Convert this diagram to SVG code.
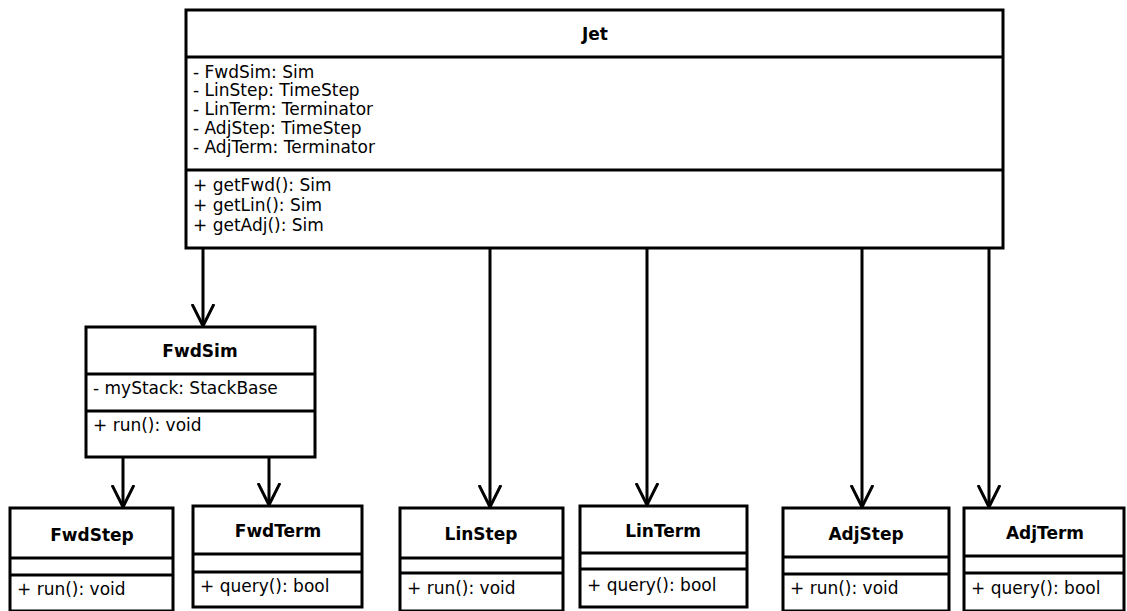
<svg xmlns="http://www.w3.org/2000/svg" width="1127" height="611" viewBox="0 0 1127 611">
<defs>
<style>
.box{fill:#fff;stroke:#000;stroke-width:3}
.div{stroke:#000;stroke-width:3}
.t{font-family:"DejaVu Sans",sans-serif;font-size:17px;fill:#000}
.b{font-family:"DejaVu Sans",sans-serif;font-size:17px;font-weight:bold;fill:#000;text-anchor:middle}
.c{stroke:#000;stroke-width:3;fill:none}
</style>
<marker id="arr" viewBox="0 0 24 24" refX="22" refY="12" markerWidth="24" markerHeight="24" markerUnits="userSpaceOnUse" orient="auto">
<path d="M0,1 L22,12 L0,23" fill="none" stroke="#000" stroke-width="3"/>
</marker>
</defs>
<rect width="1127" height="611" fill="#fff"/>
<g id="connectors">
<line class="c" x1="203" y1="248" x2="203" y2="326" marker-end="url(#arr)"/>
<line class="c" x1="490" y1="248" x2="490" y2="507" marker-end="url(#arr)"/>
<line class="c" x1="647" y1="248" x2="647" y2="505" marker-end="url(#arr)"/>
<line class="c" x1="862" y1="248" x2="862" y2="507" marker-end="url(#arr)"/>
<line class="c" x1="989" y1="248" x2="989" y2="507" marker-end="url(#arr)"/>
<line class="c" x1="123" y1="457" x2="123" y2="507" marker-end="url(#arr)"/>
<line class="c" x1="269" y1="457" x2="269" y2="505" marker-end="url(#arr)"/>
</g>
<g id="Jet">
<rect class="box" x="186" y="10" width="817" height="238"/>
<line class="div" x1="186" y1="57" x2="1003" y2="57"/>
<line class="div" x1="186" y1="170" x2="1003" y2="170"/>
<text class="b" x="595" y="40">Jet</text>
<text class="t" x="193" y="78">- FwdSim: Sim</text>
<text class="t" x="193" y="96">- LinStep: TimeStep</text>
<text class="t" x="193" y="115">- LinTerm: Terminator</text>
<text class="t" x="193" y="134">- AdjStep: TimeStep</text>
<text class="t" x="193" y="153">- AdjTerm: Terminator</text>
<text class="t" x="193" y="191">+ getFwd(): Sim</text>
<text class="t" x="193" y="211">+ getLin(): Sim</text>
<text class="t" x="193" y="231">+ getAdj(): Sim</text>
</g>
<g id="FwdSim">
<rect class="box" x="86" y="327" width="229" height="130"/>
<line class="div" x1="86" y1="374" x2="315" y2="374"/>
<line class="div" x1="86" y1="411" x2="315" y2="411"/>
<text class="b" x="200" y="357">FwdSim</text>
<text class="t" x="93" y="394">- myStack: StackBase</text>
<text class="t" x="93" y="431">+ run(): void</text>
</g>
<g id="FwdStep">
<rect class="box" x="10" y="508" width="163" height="103"/>
<line class="div" x1="10" y1="558" x2="173" y2="558"/>
<line class="div" x1="10" y1="575" x2="173" y2="575"/>
<text class="b" x="92" y="541">FwdStep</text>
<text class="t" x="17" y="595">+ run(): void</text>
</g>
<g id="FwdTerm">
<rect class="box" x="193" y="506" width="169" height="101"/>
<line class="div" x1="193" y1="554" x2="362" y2="554"/>
<line class="div" x1="193" y1="572" x2="362" y2="572"/>
<text class="b" x="278" y="537">FwdTerm</text>
<text class="t" x="200" y="592">+ query(): bool</text>
</g>
<g id="LinStep">
<rect class="box" x="400" y="508" width="163" height="103"/>
<line class="div" x1="400" y1="558" x2="563" y2="558"/>
<line class="div" x1="400" y1="573" x2="563" y2="573"/>
<text class="b" x="481" y="540">LinStep</text>
<text class="t" x="407" y="594">+ run(): void</text>
</g>
<g id="LinTerm">
<rect class="box" x="580" y="506" width="167" height="101"/>
<line class="div" x1="580" y1="553" x2="747" y2="553"/>
<line class="div" x1="580" y1="569" x2="747" y2="569"/>
<text class="b" x="663" y="537">LinTerm</text>
<text class="t" x="587" y="591">+ query(): bool</text>
</g>
<g id="AdjStep">
<rect class="box" x="783" y="508" width="166" height="103"/>
<line class="div" x1="783" y1="557" x2="949" y2="557"/>
<line class="div" x1="783" y1="574" x2="949" y2="574"/>
<text class="b" x="866" y="540">AdjStep</text>
<text class="t" x="790" y="594">+ run(): void</text>
</g>
<g id="AdjTerm">
<rect class="box" x="964" y="508" width="160" height="103"/>
<line class="div" x1="964" y1="556" x2="1124" y2="556"/>
<line class="div" x1="964" y1="573" x2="1124" y2="573"/>
<text class="b" x="1045" y="539">AdjTerm</text>
<text class="t" x="971" y="594">+ query(): bool</text>
</g>
</svg>
